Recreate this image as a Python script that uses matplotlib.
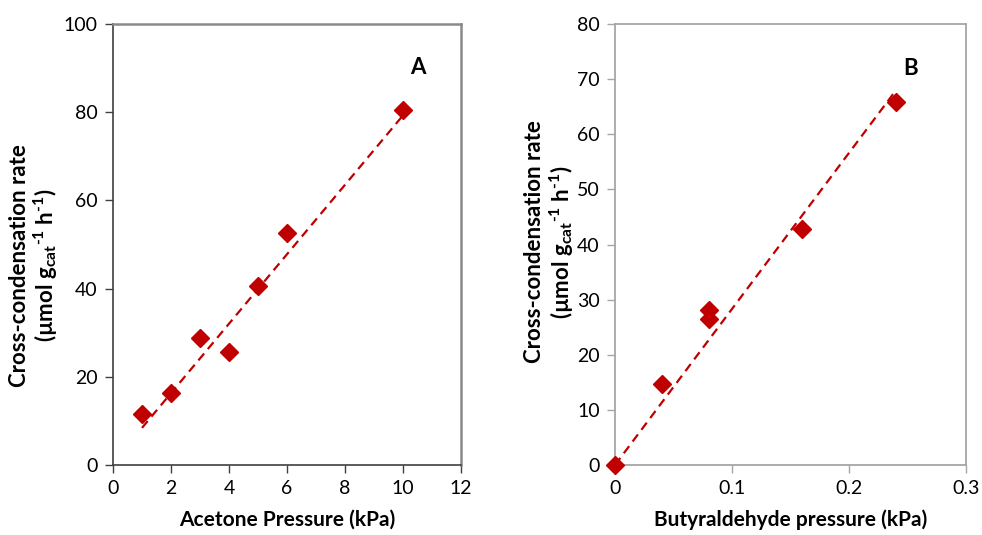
import numpy as np
import matplotlib
matplotlib.use("Agg")
import matplotlib.pyplot as plt

plt.rcParams['font.family'] = ['Lato', 'DejaVu Sans']
plt.rcParams['mathtext.fontset'] = 'custom'
plt.rcParams['mathtext.rm'] = 'Lato:bold'
plt.rcParams['mathtext.bf'] = 'Lato:bold'

# Data
acetone_p = [1, 2, 3, 4, 5, 6, 10]
acetone_rate = [11.6, 16.4, 28.7, 25.7, 40.7, 52.7, 80.5]
butyr_p = [0, 0.04, 0.08, 0.08, 0.16, 0.24]
butyr_rate = [0, 14.7, 28.1, 26.4, 42.9, 65.9]

xticks_a = [0, 2, 4, 6, 8, 10, 12]
yticks_a = [0, 20, 40, 60, 80, 100]
xticks_b = [0, 0.1, 0.2, 0.3]
xticklabels_b = ['0', '0.1', '0.2', '0.3']
yticks_b = [0, 10, 20, 30, 40, 50, 60, 70, 80]

red = '#C00000'
ylabel = ('Cross-condensation rate\n'
          '(\u00b5mol g$_{\\mathregular{cat}}$$^{\\mathregular{\u20101}}$ h$^{\\mathregular{\u20101}}$)')

LAB = 15
YLAB = 16
TICK = 14

fig = plt.figure(figsize=(9.82, 5.35), dpi=100)
axA = fig.add_axes([113/982, 70/535, (461-113)/982, (465-24)/535])
axB = fig.add_axes([615/982, 70/535, (966-615)/982, (465-24)/535])

# Panel A
xa = np.array(acetone_p, float); ya = np.array(acetone_rate, float)
m, b = np.polyfit(xa, ya, 1)
xl = np.array([xa.min(), xa.max()])
axA.plot(xl, m*xl + b - 1.2, ls=(0, (4, 2.6)), color=red, lw=1.6, zorder=2)
axA.plot(xa, ya, 'D', color=red, markersize=9, zorder=3, clip_on=False)
axA.set_xlim(0, 12); axA.set_ylim(0, 100)
axA.set_xticks(xticks_a); axA.set_yticks(yticks_a)
axA.set_xlabel('Acetone Pressure (kPa)', fontsize=LAB, fontweight='bold', labelpad=9)
axA.set_ylabel(ylabel, fontsize=YLAB, fontweight='bold', linespacing=1.1)
axA.yaxis.set_label_coords(-0.151, 0.453)
axA.text(10.5, 90.2, 'A', fontsize=16, fontweight='bold', ha='center', va='center')
for s in ['left', 'bottom']:
    axA.spines[s].set_color('#404040'); axA.spines[s].set_linewidth(1.2)
for s in ['right', 'top']:
    axA.spines[s].set_color('#8a8a8a'); axA.spines[s].set_linewidth(1.8)
axA.tick_params(direction='out', length=6, width=1.0, color='#404040',
                labelsize=TICK, pad=5)

# Panel B
xb = np.array(butyr_p, float); yb = np.array(butyr_rate, float)
slope = np.sum(xb*yb) / np.sum(xb*xb)
xl2 = np.array([0, xb.max()])
axB.plot(xl2, slope*xl2, ls=(0, (4, 2.6)), color=red, lw=1.6, zorder=2)
axB.plot(xb, yb, 'D', color=red, markersize=9, zorder=3, clip_on=False)
axB.set_xlim(0, 0.3); axB.set_ylim(0, 80)
axB.set_xticks(xticks_b); axB.set_xticklabels(xticklabels_b)
axB.set_yticks(yticks_b)
axB.set_xlabel('Butyraldehyde pressure (kPa)', fontsize=LAB, fontweight='bold', labelpad=9)
axB.set_ylabel(ylabel, fontsize=YLAB, fontweight='bold', linespacing=1.1)
axB.yaxis.set_label_coords(-0.112, 0.506)
axB.text(0.253, 72, 'B', fontsize=16, fontweight='bold', ha='center', va='center')
for s in axB.spines.values():
    s.set_color('#a6a6a6'); s.set_linewidth(1.3)
axB.tick_params(direction='out', length=6, width=1.0, color='#a6a6a6',
                labelsize=TICK, pad=5)

fig.savefig('out.png', dpi=100)
